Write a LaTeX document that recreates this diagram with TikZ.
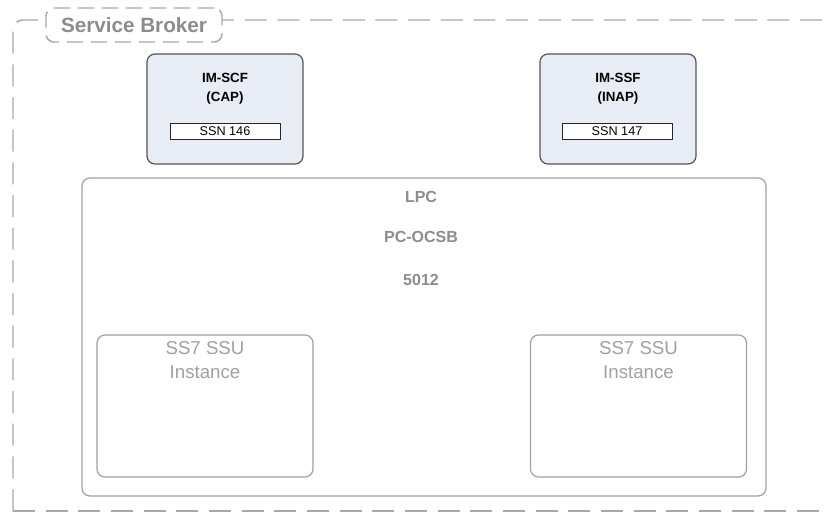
\documentclass[tikz,border=0pt]{standalone}
\usepackage{fontspec}
\setmainfont{Liberation Sans}
\usetikzlibrary{positioning}

\definecolor{dashgray}{HTML}{A8A8A8}
\definecolor{boxgray}{HTML}{A0A0A0}
\definecolor{textgray}{HTML}{8C8C8C}
\definecolor{imedge}{HTML}{555555}
\definecolor{imfill}{HTML}{E8ECF4}

\begin{document}
\begin{tikzpicture}[x=0.75pt,y=-0.75pt,
brokerline/.style={draw=dashgray,line width=1.1pt,dash pattern=on 16.5pt off 8pt,rounded corners=7pt},
brokertag/.style={draw=dashgray,fill=white,rectangle,rounded corners=6pt,line width=1.1pt,dash pattern=on 12pt off 6pt,minimum width=132pt,minimum height=25.5pt,text=textgray,font=\bfseries\fontsize{15.5}{18}\selectfont},
imblock/.style={draw=imedge,fill=imfill,rectangle,rounded corners=6pt,minimum width=117pt,minimum height=82.5pt,line width=0.9pt},
imtext/.style={align=center,inner sep=0pt,font=\bfseries\fontsize{10}{14}\selectfont},
ssnblock/.style={draw=black!85,fill=white,rectangle,inner sep=0pt,minimum width=82.5pt,minimum height=12pt,line width=0.7pt,font=\fontsize{9.5}{10}\selectfont},
lpcblock/.style={draw=boxgray,rectangle,rounded corners=6pt,minimum width=513pt,minimum height=238.5pt,line width=0.9pt},
lpctext/.style={text=textgray,inner sep=0pt,font=\bfseries\fontsize{12}{13}\selectfont},
ssublock/.style={draw=boxgray,rectangle,rounded corners=6pt,minimum width=162pt,minimum height=106.5pt,line width=0.9pt},
ssutext/.style={text=boxgray,align=center,inner sep=0pt,font=\fontsize{14}{18}\selectfont}]

\useasboundingbox (0,0) rectangle (830,512);
\clip (0,0) rectangle (830,512);

% service broker frame
\draw[brokerline] (13,511) -- (13,20) -- (860,20);
\draw[brokerline] (13,511) -- (860,511);
\node[brokertag] (broker) at (134,25) {Service Broker};

% IM blocks
\node[imblock] (imscf) at (225,109) {};
\node[imtext] (imscftxt) at (225,89) {IM-SCF\\(CAP)};
\node[ssnblock] (ssnscf) at (225,131) {SSN 146};

\node[imblock] (imssf) at (618,109) {};
\node[imtext] (imssftxt) at (618,89) {IM-SSF\\(INAP)};
\node[ssnblock] (ssnssf) at (617,131) {SSN 147};

% LPC
\node[lpcblock] (lpc) at (424,337) {};
\node[lpctext] (lpcname) at (421,197) {LPC};
\node[lpctext] (pcname) at (421,237) {PC-OCSB};
\node[lpctext] (pcnum) at (421,280) {5012};

% SSU instances
\node[ssublock] (ssuA) at (205,406) {};
\node[ssutext] (ssuAtxt) at (205,360) {SS7 SSU\\Instance};
\node[ssublock] (ssuB) at (638.5,406) {};
\node[ssutext] (ssuBtxt) at (638.5,360) {SS7 SSU\\Instance};

\end{tikzpicture}
\end{document}
